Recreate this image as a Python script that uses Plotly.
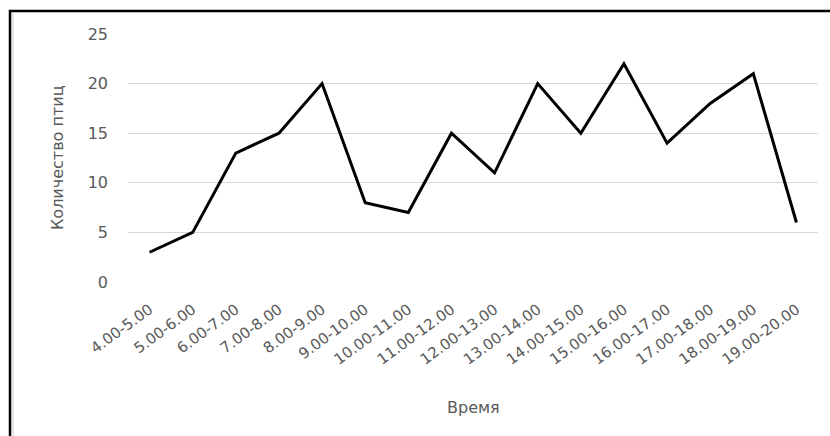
import plotly.graph_objects as go

# Hourly bird counts
periods = [
    "4.00-5.00", "5.00-6.00", "6.00-7.00", "7.00-8.00", "8.00-9.00",
    "9.00-10.00", "10.00-11.00", "11.00-12.00", "12.00-13.00", "13.00-14.00",
    "14.00-15.00", "15.00-16.00", "16.00-17.00", "17.00-18.00", "18.00-19.00",
    "19.00-20.00",
]
bird_counts = [3, 5, 13, 15, 20, 8, 7, 15, 11, 20, 15, 22, 14, 18, 21, 6]
y_ticks = [0, 5, 10, 15, 20, 25]

FONT = "DejaVu Sans"
GREY = "#595959"

fig = go.Figure()
fig.add_trace(go.Scatter(
    x=periods,
    y=bird_counts,
    mode="lines",
    line=dict(color="black", width=3),
    showlegend=False,
))

fig.update_layout(
    width=830,
    height=436,
    margin=dict(l=128, r=12, t=34, b=154),
    paper_bgcolor="white",
    plot_bgcolor="white",
    font=dict(family=FONT, color=GREY, size=15),
    xaxis=dict(
        type="category",
        range=[-0.5, len(periods) - 0.5],
        tickangle=-36,
        tickfont=dict(size=15, color=GREY),
        showgrid=False,
        showline=False,
        zeroline=False,
        ticks="",
        ticklabelstandoff=15,
        automargin=False,
    ),
    yaxis=dict(
        range=[0, 25],
        tickvals=y_ticks,
        tickfont=dict(size=16, color=GREY),
        gridcolor="#d9d9d9",
        gridwidth=1,
        zeroline=False,
        showline=False,
        ticks="",
        ticklabelstandoff=19,
        automargin=False,
    ),
    annotations=[
        dict(
            text="Время", xref="paper", yref="paper",
            x=0.5, y=(282 - 407) / 248, showarrow=False,
            font=dict(size=16, color=GREY, family=FONT),
            xanchor="center", yanchor="middle",
        ),
        dict(
            text="Количество птиц", xref="paper", yref="paper",
            x=(57 - 128) / 690, y=0.5, showarrow=False, textangle=-90,
            font=dict(size=16, color=GREY, family=FONT),
            xanchor="center", yanchor="middle",
        ),
    ],
    shapes=[
        # chart frame (top and left edges fall inside the page)
        dict(
            type="rect", xref="paper", yref="paper",
            x0=(10 - 128) / 690, x1=(845 - 128) / 690,
            y0=(282 - 450) / 248, y1=(282 - 11) / 248,
            line=dict(color="black", width=2.5),
            fillcolor="rgba(0,0,0,0)", layer="above",
        ),
        # faint inner edge of the frame
        dict(
            type="line", xref="paper", yref="paper",
            x0=(13 - 128) / 690, x1=(13 - 128) / 690,
            y0=(282 - 450) / 248, y1=(282 - 13) / 248,
            line=dict(color="#d0d0d0", width=1),
        ),
    ],
)

fig.write_html("out.html")
